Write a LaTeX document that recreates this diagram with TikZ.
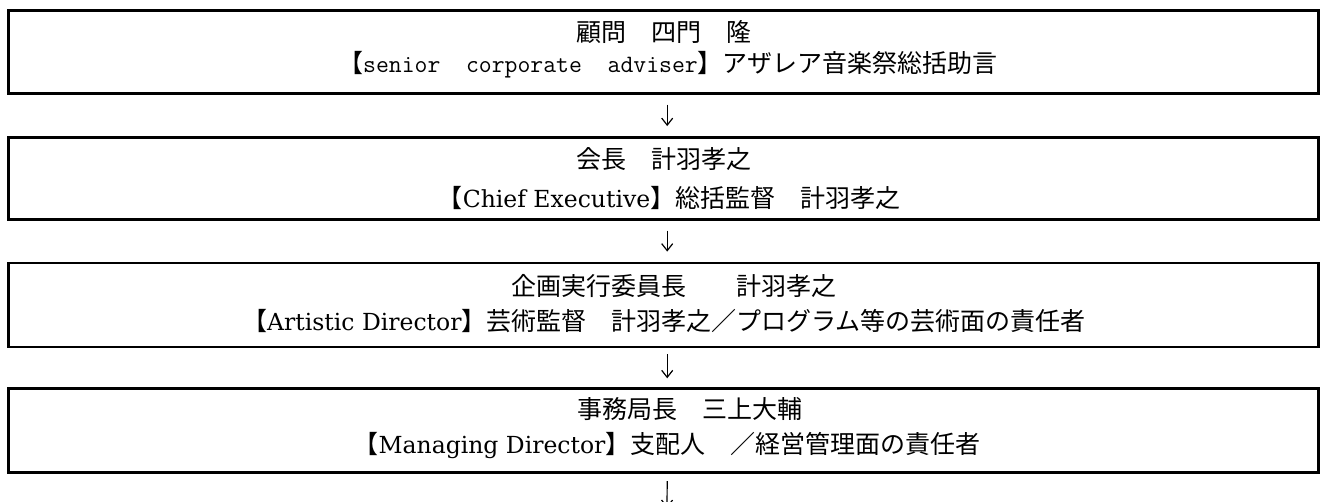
\documentclass[tikz,border=0pt]{standalone}
\usepackage{fontspec}
\usetikzlibrary{arrows.meta}
\newfontfamily\jp{Noto Sans CJK JP}
\newfontfamily\lat{DejaVu Serif}
\tikzset{
  orgbox/.style={draw=black, line width=2.8pt, minimum width=1310pt, inner sep=0pt},
  txt/.style={inner sep=0pt, font=\fontsize{25pt}{30pt}\selectfont},
  arr/.style={line width=1.2pt, -{Straight Barb[length=7pt,width=11pt,line width=1.2pt]}}
}
\newcommand{\latw}[1]{{\lat\fontsize{23.5pt}{28pt}\selectfont #1}}
\begin{document}
\begin{tikzpicture}[x=1pt,y=-1pt]
\useasboundingbox (0,0) rectangle (1325,501);
\clip (0,0) rectangle (1325,501);
% boxes
\node[orgbox, minimum height=82.6pt] (b1) at (663.2,52.0) {};
\node[orgbox, minimum height=81.8pt] (b2) at (663.2,178.4) {};
\node[orgbox, minimum height=84pt] (b3) at (663.2,305.0) {};
\node[orgbox, minimum height=84pt] (b4) at (663.2,430.7) {};
% texts
\node[txt, anchor=west] (t1a) at (576,32) {\jp 顧問　四門　隆};
\node[txt] (t1b) at (668,65) {{\jp 【}\ttfamily senior\ \ corporate\ \ adviser{\jp 】アザレア音楽祭総括助言}};
\node[txt, anchor=west] (t2a) at (576,159) {\jp 会長　計羽孝之};
\node[txt] (t2b) at (669,198) {{\jp 【}\latw{Chief Executive}{\jp 】総括監督　計羽孝之}};
\node[txt, anchor=west] (t3a) at (511,286) {\jp 企画実行委員長　　計羽孝之};
\node[txt] (t3b) at (664,321) {{\jp 【}\latw{Artistic Director}{\jp 】芸術監督　計羽孝之／プログラム等の芸術面の責任者}};
\node[txt, anchor=west] (t4a) at (577,409) {\jp 事務局長　三上大輔};
\node[txt] (t4b) at (667,446) {{\jp 【}\latw{Managing Director}{\jp 】支配人　／経営管理面の責任者}};
% arrows
\draw[arr] ([xshift=4pt,yshift=-10pt]b1.south) -- ([xshift=4pt,yshift=10pt]b2.north);
\draw[arr] ([xshift=4pt,yshift=-10pt]b2.south) -- ([xshift=4pt,yshift=10pt]b3.north);
\draw[arr] ([xshift=4pt,yshift=-6pt]b3.south) -- ([xshift=4pt,yshift=9pt]b4.north);
\coordinate (endc) at (667,508);
\draw[arr] ([xshift=4pt,yshift=-7pt]b4.south) -- (endc);
\end{tikzpicture}
\end{document}
